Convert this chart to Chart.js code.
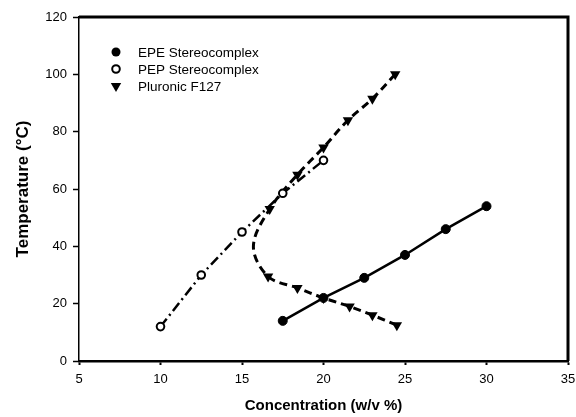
<!DOCTYPE html>
<html><head><meta charset="utf-8">
<script src="https://cdn.jsdelivr.net/npm/chart.js@4/dist/chart.umd.min.js"></script>
<style>html,body{margin:0;padding:0;background:#fff}#wrap{width:576px;height:417px;position:relative}</style>
</head><body><div id="wrap"><canvas id="c" width="576" height="417"></canvas></div>
<script>
// ---- data ----
const epeX = [17.5, 20, 22.5, 25, 27.5, 30];
const epeY = [14, 22, 29, 37, 46, 54];
const pepX = [10, 12.5, 15, 17.5, 20];
const pepY = [12, 30, 45, 58.5, 70];
const f127UpperX = [24.4, 23, 21.5, 20, 18.4, 16.7];
const f127UpperY = [100, 91.5, 84, 74.5, 65, 53];
const f127TurnX = [15.7];   // leftmost point of the dashed curve (no marker)
const f127TurnY = [40];
const f127LowerX = [16.6, 18.4, 20, 21.6, 23, 24.5];
const f127LowerY = [29.5, 25.5, 22, 19, 16, 12.5];
const seriesNames = ['EPE Stereocomplex', 'PEP Stereocomplex', 'Pluronic F127'];
const xTicks = [5, 10, 15, 20, 25, 30, 35];
const yTicks = [0, 20, 40, 60, 80, 100, 120];
const xTitle = 'Concentration (w/v %)';
const yTitle = 'Temperature (°C)';

const pts = (xs, ys) => xs.map((x, i) => ({x, y: ys[i]}));
const epe = pts(epeX, epeY);
const pep = pts(pepX, pepY);
const f127Markers = pts(f127UpperX, f127UpperY).concat(pts(f127LowerX, f127LowerY));
const f127Curve = pts(f127UpperX, f127UpperY).concat(pts(f127TurnX, f127TurnY), pts(f127LowerX, f127LowerY));

const FONT = "'Liberation Sans', Arial, sans-serif";

function drawMarker(ctx, kind, x, y) {
  ctx.save();
  ctx.fillStyle = '#000'; ctx.strokeStyle = '#000';
  if (kind === 0) {
    ctx.beginPath(); ctx.arc(x, y, 4.5, 0, Math.PI * 2); ctx.fill();
  } else if (kind === 1) {
    ctx.lineWidth = 2; ctx.fillStyle = '#fff';
    ctx.beginPath(); ctx.arc(x, y, 3.8, 0, Math.PI * 2); ctx.fill(); ctx.stroke();
  } else {
    const r = 6;
    ctx.beginPath();
    ctx.moveTo(x, y + r);
    ctx.lineTo(x - r * 0.866, y - r * 0.5);
    ctx.lineTo(x + r * 0.866, y - r * 0.5);
    ctx.closePath(); ctx.fill();
  }
  ctx.restore();
}

const framePlugin = {
  id: 'frame',
  afterDraw(chart) {
    const {ctx, chartArea: a} = chart;
    ctx.save();
    ctx.strokeStyle = '#000'; ctx.lineWidth = 3;
    ctx.beginPath();
    ctx.moveTo(a.left, a.top); ctx.lineTo(a.right, a.top); ctx.lineTo(a.right, a.bottom);
    ctx.stroke();
    // legend inside the plot
    const rows = [35, 52, 69];
    ctx.font = '13.5px ' + FONT;
    ctx.fillStyle = '#000'; ctx.textBaseline = 'middle'; ctx.textAlign = 'left';
    seriesNames.forEach((name, i) => {
      const y = a.top + rows[i];
      drawMarker(ctx, i, a.left + 37, y);
      ctx.fillText(name, a.left + 59, y + 1);
    });
    ctx.restore();
  }
};

new Chart(document.getElementById('c'), {
  type: 'scatter',
  data: {
    datasets: [
      {label: seriesNames[0], data: epe, showLine: true, borderColor: '#000', borderWidth: 2.5,
       pointStyle: 'circle', pointRadius: 4.5, pointBackgroundColor: '#000', pointBorderColor: '#000', pointBorderWidth: 1, order: 1},
      {label: seriesNames[1], data: pep, showLine: true, borderColor: '#000', borderWidth: 2.5, borderDash: [10, 4, 2, 4],
       pointStyle: 'circle', pointRadius: 3.8, pointBackgroundColor: '#fff', pointBorderColor: '#000', pointBorderWidth: 2, order: 1},
      {label: seriesNames[2] + ' curve', data: f127Curve, showLine: true, borderColor: '#000', borderWidth: 3, borderDash: [8, 5],
       tension: 0.35, pointRadius: 0, pointHoverRadius: 0, order: 2},
      {label: seriesNames[2], data: f127Markers, showLine: false,
       pointStyle: 'triangle', rotation: 180, pointRadius: 6, pointBackgroundColor: '#000', pointBorderColor: '#000', pointBorderWidth: 0, order: 0}
    ]
  },
  options: {
    responsive: false, animation: false, devicePixelRatio: 1,
    layout: {padding: {top: 17, right: 8, left: 0, bottom: 0}},
    plugins: {legend: {display: false}, tooltip: {enabled: false}},
    scales: {
      x: {
        type: 'linear', min: 5, max: 35,
        afterBuildTicks: s => { s.ticks = xTicks.map(v => ({value: v})); },
        afterFit: s => { s.height = 56; s.paddingLeft = 0; s.paddingRight = 0; },
        grid: {display: true, drawOnChartArea: false, drawTicks: true, tickLength: 4, tickColor: '#000', tickWidth: 2, color: '#000'},
        border: {display: true, color: '#000', width: 2.5},
        ticks: {color: '#000', font: {family: FONT, size: 13}, padding: 7, maxRotation: 0, autoSkip: false},
        title: {display: true, text: xTitle, color: '#000', font: {family: FONT, size: 15, weight: 'bold'}, padding: {top: 0, bottom: 2}}
      },
      y: {
        type: 'linear', min: 0, max: 120,
        afterBuildTicks: s => { s.ticks = yTicks.map(v => ({value: v})); },
        afterFit: s => { s.width = 79; s.paddingTop = 0; s.paddingBottom = 0; },
        grid: {display: true, drawOnChartArea: false, drawTicks: true, tickLength: 6, tickColor: '#000', tickWidth: 1.5, color: '#000'},
        border: {display: true, color: '#000', width: 1.5},
        ticks: {color: '#000', font: {family: FONT, size: 13}, padding: 6, autoSkip: false},
        title: {display: true, text: yTitle, color: '#000', font: {family: FONT, size: 17, weight: 'bold'}, padding: {top: 13, bottom: 0}}
      }
    }
  },
  plugins: [framePlugin]
});
</script></body></html>
